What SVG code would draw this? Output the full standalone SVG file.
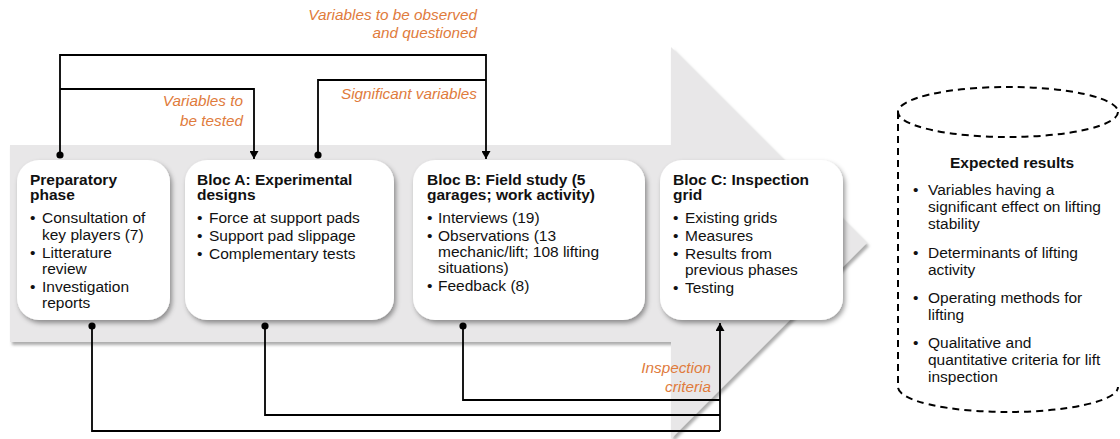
<svg xmlns="http://www.w3.org/2000/svg" width="1120" height="439" viewBox="0 0 1120 439">
<style>
.title{font-family:"Liberation Sans",Arial,sans-serif;font-size:15.5px;font-weight:bold;fill:#111}
.txt{font-family:"Liberation Sans",Arial,sans-serif;font-size:15.5px;fill:#111}
.lbl{font-family:"Liberation Sans",Arial,sans-serif;font-size:15.3px;font-style:italic;fill:#e07b3c;text-anchor:end}
.box{fill:#fff;filter:url(#sh)}
.con{fill:none;stroke:#000;stroke-width:1.8}
.dash{fill:none;stroke:#000;stroke-width:2;stroke-dasharray:7 5}
</style>
<defs>
<filter id="sh" x="-10%" y="-10%" width="125%" height="130%">
<feDropShadow dx="2" dy="3" stdDeviation="2.5" flood-color="#000" flood-opacity="0.4"/>
</filter>
<filter id="ash" x="-5%" y="-5%" width="112%" height="115%">
<feDropShadow dx="2" dy="3" stdDeviation="1.5" flood-color="#777" flood-opacity="0.6"/>
</filter>
<marker id="arr" markerUnits="userSpaceOnUse" markerWidth="9" markerHeight="9" refX="8" refY="4.5" orient="auto">
<path d="M0,0 L8,4.5 L0,9 z" fill="#000"/>
</marker>
<marker id="dot" markerUnits="userSpaceOnUse" markerWidth="9" markerHeight="9" refX="4.5" refY="4.5">
<circle cx="4.5" cy="4.5" r="3.6" fill="#000"/>
</marker>
</defs>

<g id="bigArrow">
<path d="M10,145 L671,145 L671,47 L867,243 L671,439 L671,342 L10,342 Z" fill="#e8e7e8" filter="url(#ash)"/>
</g>

<g id="preparatory">
<rect class="box" x="17" y="160" width="153" height="160" rx="22"/>
<text class="title" x="30" y="185">Preparatory</text>
<text class="title" x="30" y="200">phase</text>
<text class="txt"><tspan x="30" y="223">•</tspan><tspan x="42" y="223">Consultation of</tspan><tspan x="42" y="240">key players (7)</tspan><tspan x="30" y="258">•</tspan><tspan x="42" y="258">Litterature</tspan><tspan x="42" y="274">review</tspan><tspan x="30" y="292">•</tspan><tspan x="42" y="292">Investigation</tspan><tspan x="42" y="308">reports</tspan></text>
</g>

<g id="blocA">
<rect class="box" x="185" y="160" width="209" height="160" rx="22"/>
<text class="title" x="197" y="185">Bloc A:  Experimental</text>
<text class="title" x="197" y="200">designs</text>
<text class="txt"><tspan x="197" y="223">•</tspan><tspan x="209" y="223">Force at support pads</tspan><tspan x="197" y="241">•</tspan><tspan x="209" y="241">Support pad slippage</tspan><tspan x="197" y="259">•</tspan><tspan x="209" y="259">Complementary tests</tspan></text>
</g>

<g id="blocB">
<rect class="box" x="413" y="160" width="232" height="160" rx="22"/>
<text class="title" x="427" y="185">Bloc B: Field study (5</text>
<text class="title" x="427" y="200">garages; work activity)</text>
<text class="txt"><tspan x="427" y="223">•</tspan><tspan x="438" y="223">Interviews (19)</tspan><tspan x="427" y="241">•</tspan><tspan x="438" y="241">Observations (13</tspan><tspan x="438" y="257">mechanic/lift; 108 lifting</tspan><tspan x="438" y="273">situations)</tspan><tspan x="427" y="291">•</tspan><tspan x="438" y="291">Feedback (8)</tspan></text>
</g>

<g id="blocC">
<rect class="box" x="660" y="160" width="183" height="160" rx="22"/>
<text class="title" x="673" y="185">Bloc C: Inspection</text>
<text class="title" x="673" y="200">grid</text>
<text class="txt"><tspan x="673" y="223">•</tspan><tspan x="685" y="223">Existing grids</tspan><tspan x="673" y="241">•</tspan><tspan x="685" y="241">Measures</tspan><tspan x="673" y="259">•</tspan><tspan x="685" y="259">Results from</tspan><tspan x="685" y="275">previous phases</tspan><tspan x="673" y="293">•</tspan><tspan x="685" y="293">Testing</tspan></text>
</g>

<g id="expectedResults">
<path class="dash" d="M898,112 V387 A110,25 0 0 0 1118,387"/>
<ellipse class="dash" cx="1008" cy="112" rx="110" ry="25"/>
<text class="title" x="1012" y="168" text-anchor="middle">Expected results</text>
<text class="txt"><tspan x="913" y="195">•</tspan><tspan x="928" y="195">Variables having a</tspan><tspan x="928" y="212">significant effect on lifting</tspan><tspan x="928" y="229">stability</tspan><tspan x="913" y="258">•</tspan><tspan x="928" y="258">Determinants of lifting</tspan><tspan x="928" y="275">activity</tspan><tspan x="913" y="303">•</tspan><tspan x="928" y="303">Operating methods for</tspan><tspan x="928" y="320">lifting</tspan><tspan x="913" y="348">•</tspan><tspan x="928" y="348">Qualitative and</tspan><tspan x="928" y="365">quantitative criteria for lift</tspan><tspan x="928" y="382">inspection</tspan></text>
</g>

<g id="connectors">
<path class="con" d="M60,155 V55 H486 V159" marker-start="url(#dot)" marker-end="url(#arr)"/>
<path class="con" d="M60,89 H254 V159" marker-end="url(#arr)"/>
<path class="con" d="M318,155 V80 H486" marker-start="url(#dot)"/>
<path class="con" d="M92,326 V431 H720" marker-start="url(#dot)"/>
<path class="con" d="M265,326 V415 H720" marker-start="url(#dot)"/>
<path class="con" d="M463,326 V400 H720" marker-start="url(#dot)"/>
<path class="con" d="M720,431 V323" marker-end="url(#arr)"/>
<text class="lbl"><tspan x="477" y="20">Variables to be observed</tspan><tspan x="477" y="38">and questioned</tspan></text>
<text class="lbl"><tspan x="243" y="106">Variables to</tspan><tspan x="243" y="126">be tested</tspan></text>
<text class="lbl" x="477" y="99">Significant variables</text>
<text class="lbl"><tspan x="711" y="373">Inspection</tspan><tspan x="711" y="392">criteria</tspan></text>
</g>
</svg>
